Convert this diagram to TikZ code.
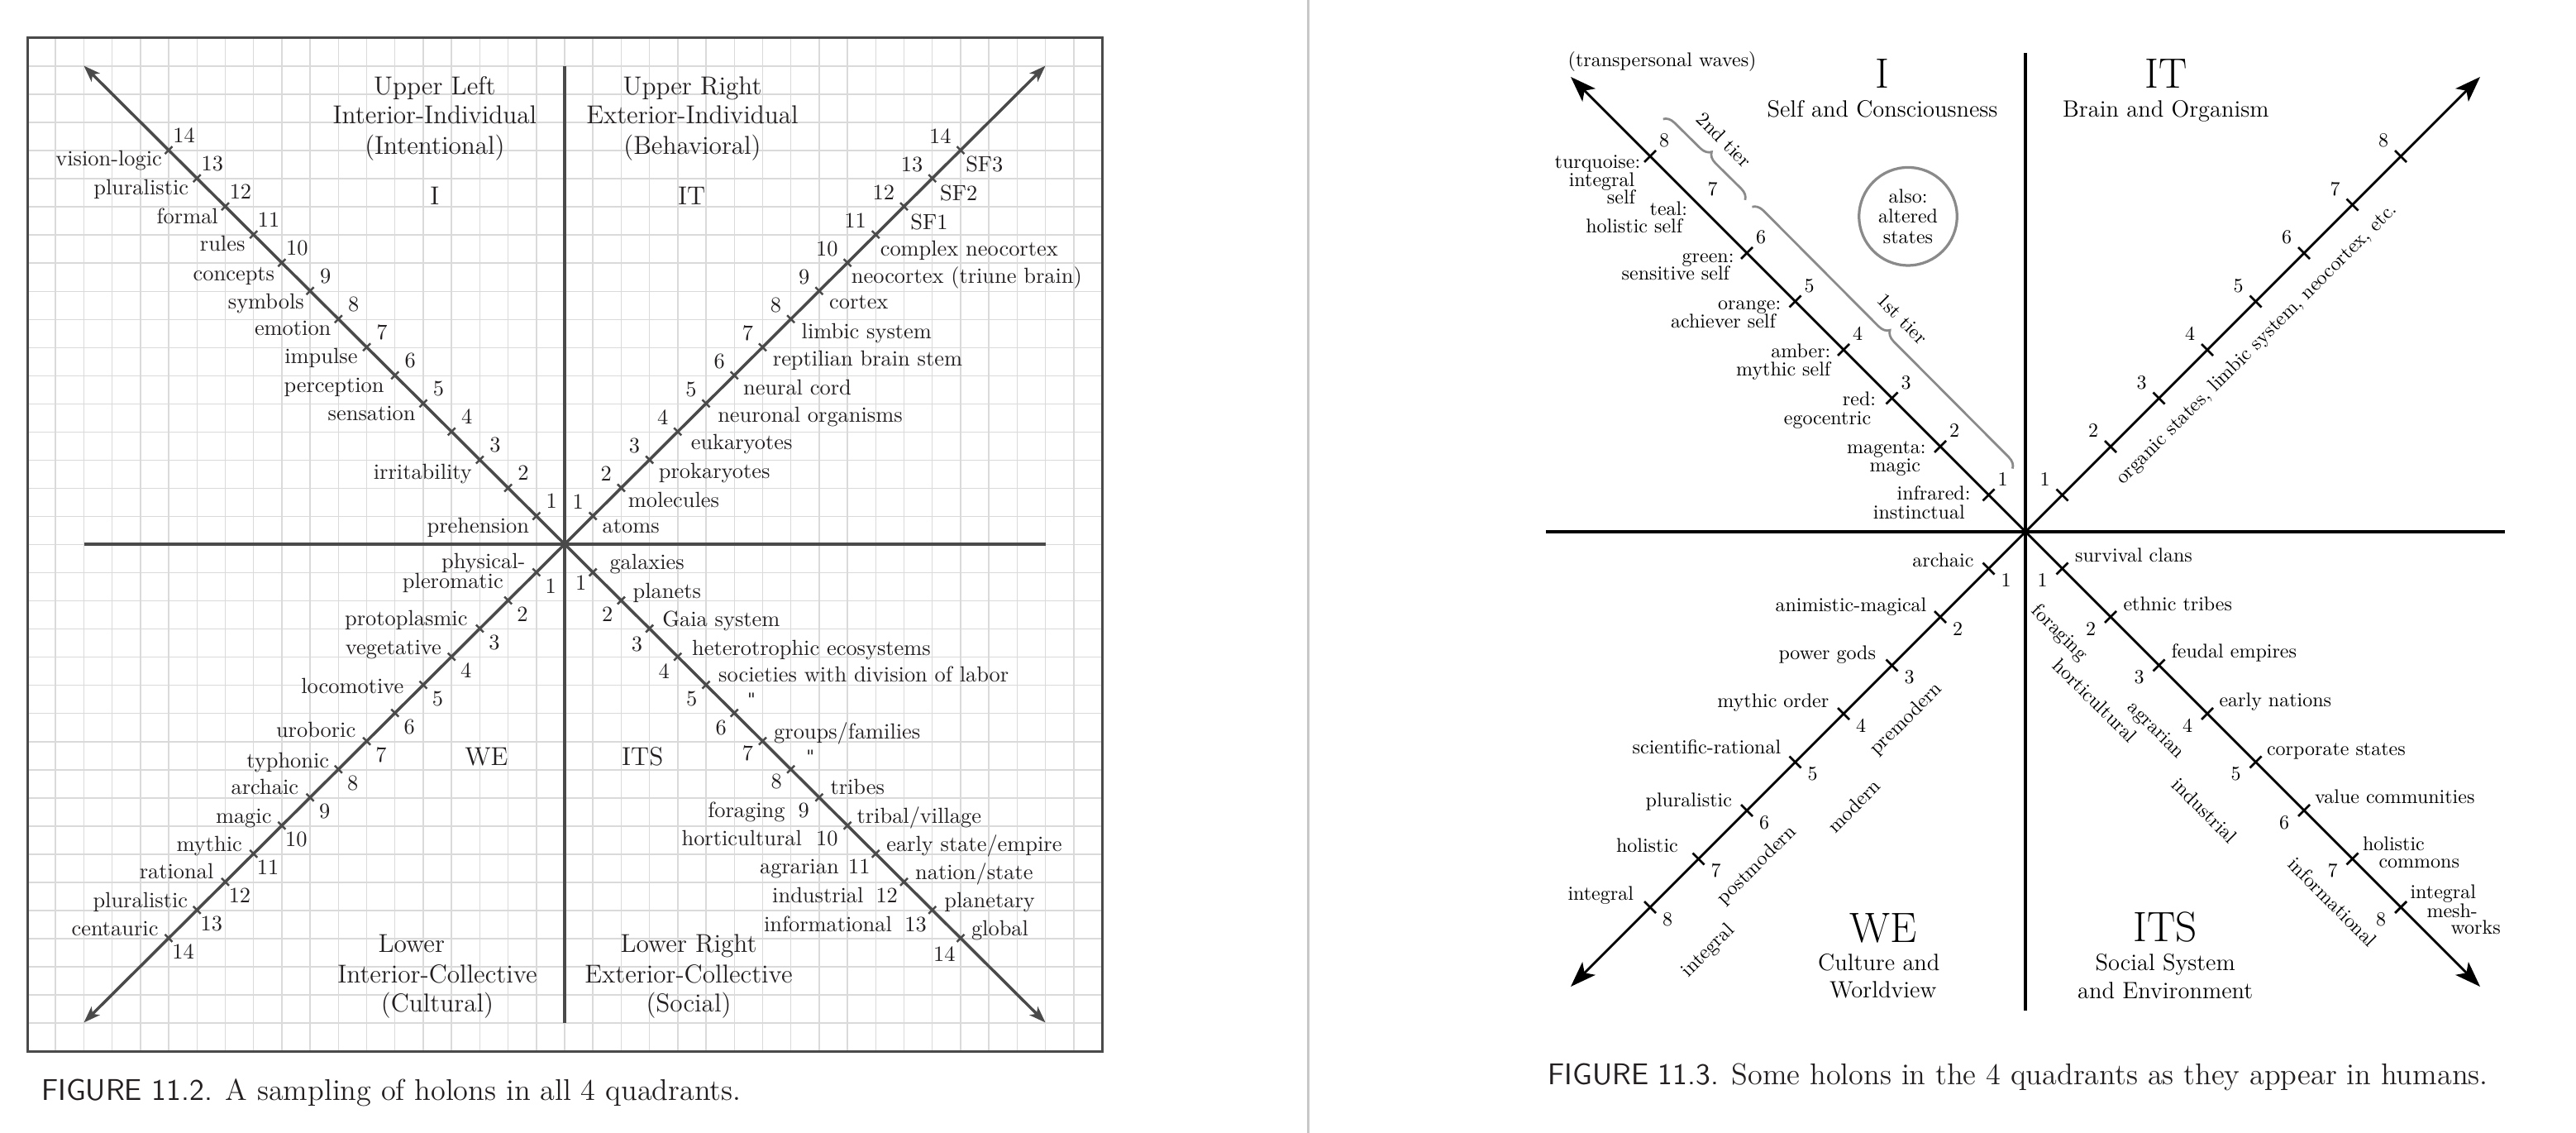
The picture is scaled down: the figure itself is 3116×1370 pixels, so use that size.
\documentclass[tikz,border=0pt]{standalone}
\usepackage{fontspec}
\newfontfamily\dqfont{DejaVu Serif}
\usetikzlibrary{arrows.meta,decorations.pathreplacing}
\definecolor{gridc}{HTML}{DADADA}
\definecolor{lineL}{HTML}{4A4A4A}
\definecolor{txtL}{HTML}{231F20}
\definecolor{divc}{HTML}{C8C8C8}
\definecolor{braceC}{HTML}{8A8A8A}
\tikzset{
 gridln/.style={draw=gridc, line width=0.6pt},
 frameL/.style={draw=lineL, line width=1.2pt},
 axisL/.style={draw=lineL, line width=1.8pt},
 diagL/.style={draw=lineL, line width=1.4pt, -{Stealth[length=8pt,width=5.6pt,inset=2pt]}},
 tickL/.style={draw=lineL, line width=1pt},
 lblL/.style={inner sep=0pt, text=txtL, font=\fontsize{10.56}{12}\selectfont, text height=7.3pt, text depth=2.1pt},
 ttlL/.style={inner sep=0pt, text=txtL, font=\fontsize{12.5}{14}\selectfont, text height=8.8pt, text depth=2.5pt},
 axisR/.style={draw=black, line width=1.6pt},
 diagR/.style={draw=black, line width=1.15pt, -{Stealth[length=12.4pt,width=8.8pt,inset=3pt]}},
 tickR/.style={draw=black, line width=1.1pt},
 lblR/.style={inner sep=0pt, font=\fontsize{9.6}{8.7}\selectfont, text height=6.7pt, text depth=1.9pt},
 subR/.style={inner sep=0pt, font=\fontsize{11.4}{13}\selectfont, text height=8pt, text depth=2.3pt},
 bigR/.style={inner sep=0pt, font=\fontsize{20.5}{22}\selectfont},
 braceS/.style={draw=braceC, line width=1.1pt, decorate, decoration={brace, amplitude=5.2pt}},
 capS/.style={inner sep=0pt, anchor=west, text=txtL, font=\fontsize{14.5}{16}\selectfont},
}
\begin{document}
\begin{tikzpicture}[x=0.4pt,y=-0.4pt]
\useasboundingbox (0,0) rectangle (3116,1370);
\fill[white] (0,0) rectangle (3116,1370);

% ================= LEFT FIGURE =================
\foreach \i in {1,...,37} \draw[gridln] ({33+34.21*\i},46) -- ({33+34.21*\i},1271);
\foreach \j in {1,...,35} \draw[gridln] (33,{46+34.03*\j}) -- (1333,{46+34.03*\j});
\draw[frameL] (33,46) rectangle (1333,1271);

\coordinate (cL) at (683,658);
\coordinate (aT) at (683,80);
\coordinate (aB) at (683,1237);
\coordinate (aLf) at (102,658);
\coordinate (aRt) at (1265,658);
\draw[axisL] (aT) -- (aB);
\draw[axisL] (aLf) -- (aRt);
\coordinate (tNW) at (101.4,79.5);
\coordinate (tNE) at (1264.6,79.5);
\coordinate (tSW) at (101.4,1236.5);
\coordinate (tSE) at (1264.6,1236.5);
\draw[diagL] (cL) -- (tNW);
\draw[diagL] (cL) -- (tNE);
\draw[diagL] (cL) -- (tSW);
\draw[diagL] (cL) -- (tSE);

\foreach \k in {1,...,14} {
  \draw[tickL] ({683-34.21*\k+4.5},{658-34.03*\k-4.5}) -- ({683-34.21*\k-4.5},{658-34.03*\k+4.5});
  \draw[tickL] ({683+34.21*\k-4.5},{658-34.03*\k-4.5}) -- ({683+34.21*\k+4.5},{658-34.03*\k+4.5});
  \draw[tickL] ({683-34.21*\k-4.5},{658+34.03*\k-4.5}) -- ({683-34.21*\k+4.5},{658+34.03*\k+4.5});
  \draw[tickL] ({683+34.21*\k+4.5},{658+34.03*\k-4.5}) -- ({683+34.21*\k-4.5},{658+34.03*\k+4.5});
  \node[lblL] (nwn\k) at ({683-34.21*\k+18.5},{658-34.03*\k-15.5}) {\k};
  \node[lblL, anchor=east] (nen\k) at ({683+34.21*\k-11},{658-34.03*\k-14.5}) {\k};
  \node[lblL] (swn\k) at ({683-34.21*\k+17.5},{658+34.03*\k+19}) {\k};
}

% quadrant titles
\node[ttlL] (ulA) at (525.9,106.5) {Upper Left};
\node[ttlL] (ulB) at (525.9,141.5) {Interior-Individual};
\node[ttlL] (ulC) at (525.9,178.5) {(Intentional)};
\node[ttlL] (ulD) at (525.9,240) {I};
\node[ttlL] (urA) at (837.5,106.5) {Upper Right};
\node[ttlL] (urB) at (837.5,141.5) {Exterior-Individual};
\node[ttlL] (urC) at (837.5,178.5) {(Behavioral)};
\node[ttlL] (urD) at (836.6,240) {IT};
\node[ttlL] (llD) at (588.4,917.6) {WE};
\node[ttlL] (llA) at (497.7,1144) {Lower};
\node[ttlL] (llB) at (529,1180.9) {Interior-Collective};
\node[ttlL] (llC) at (529,1215.6) {(Cultural)};
\node[ttlL] (lrD) at (777.2,917.6) {ITS};
\node[ttlL] (lrA) at (833,1144) {Lower Right};
\node[ttlL] (lrB) at (833,1180.9) {Exterior-Collective};
\node[ttlL] (lrC) at (833,1215.6) {(Social)};

% UL labels
\begin{scope}[every node/.append style={lblL, anchor=east}]
\node (ul14) at (196.4,194.3) {vision-logic};
\node (ul13) at (228.6,228.6) {pluralistic};
\node (ul12) at (264.3,263.7) {formal};
\node (ul11) at (296.9,297.2) {rules};
\node (ul10) at (332.6,333.1) {concepts};
\node (ul9) at (368.3,366.6) {symbols};
\node (ul8) at (400.9,399.2) {emotion};
\node (ul7) at (433,432.7) {impulse};
\node (ul6) at (465.1,467.8) {perception};
\node (ul5) at (503.1,502.5) {sensation};
\node (ul3) at (571.4,572.7) {irritability};
\node (ul1) at (640.6,638) {prehension};
% LL labels
\node (ll1a) at (636,680.8) {physical-};
\node (ll1b) at (609.3,705.3) {pleromatic};
\node (ll3) at (566,750) {protoplasmic};
\node (ll4) at (534.3,785) {vegetative};
\node (ll5) at (488.8,831.9) {locomotive};
\node (ll7) at (430.8,885) {uroboric};
\node (ll8) at (398.6,921.7) {typhonic};
\node (ll9) at (361.6,954.3) {archaic};
\node (ll10) at (329,989) {magic};
\node (ll11) at (293.3,1022.9) {mythic};
\node (ll12) at (258.9,1056.4) {rational};
\node (ll13) at (227.7,1091) {pluralistic};
\node (ll14) at (192,1125) {centauric};
% LR left-side words
\node (lrw9) at (950,982) {foraging};
\node (lrw10) at (970.5,1015.5) {horticultural};
\node (lrw11) at (1015.2,1050.2) {agrarian};
\node (lrw12) at (1045,1085) {industrial};
\node (lrw13) at (1079.4,1119.6) {informational};
\end{scope}

\begin{scope}[every node/.append style={lblL, anchor=west}]
% UR labels
\node (ur1) at (728.1,638) {atoms};
\node (ur2) at (759.4,607.4) {molecules};
\node (ur3) at (796.4,571.9) {prokaryotes};
\node (ur4) at (835.3,537.2) {eukaryotes};
\node (ur5) at (867.8,504.5) {neuronal organisms};
\node (ur6) at (898.6,470.7) {neural cord};
\node (ur7) at (934.4,436) {reptilian brain stem};
\node (ur8) at (969.2,403.3) {limbic system};
\node (ur9) at (1002.7,366.6) {cortex};
\node (ur10) at (1029.4,336) {neocortex (triune brain)};
\node (ur11) at (1064.3,303.3) {complex neocortex};
\node (ur12) at (1100.9,270.6) {SF1};
\node (ur13) at (1136.6,235.9) {SF2};
\node (ur14) at (1167.8,201.2) {SF3};
% LR labels
\node (lr1) at (737,682) {galaxies};
\node (lr2) at (765.2,716.7) {planets};
\node (lr3) at (800.9,751) {Gaia system};
\node (lr4) at (836.6,786.1) {heterotrophic ecosystems};
\node (lr5) at (868.7,818.4) {societies with division of labor};
\node (lr7) at (935.7,887) {groups/families};
\node (lr9) at (1004,954.3) {tribes};
\node (lr10) at (1036.1,989) {tribal/village};
\node (lr11) at (1071.8,1022.5) {early state/empire};
\node (lr12) at (1106.7,1057.2) {nation/state};
\node (lr13) at (1141.9,1091) {planetary};
\node (lr14) at (1174.5,1124.5) {global};
\end{scope}
\node[lblL, font=\dqfont\fontsize{8.5}{10}\selectfont] (lr6) at (908.9,847) {"};
\node[lblL, font=\dqfont\fontsize{8.5}{10}\selectfont] (lr8) at (980.3,915.5) {"};

% LR numbers
\node[lblL] (sen1) at (702.7,707.4) {1};
\node[lblL] (sen2) at (734.8,745.3) {2};
\node[lblL] (sen3) at (770.5,780.8) {3};
\node[lblL] (sen4) at (803.1,813.5) {4};
\node[lblL] (sen5) at (836.6,847.4) {5};
\node[lblL] (sen6) at (872.3,882) {6};
\node[lblL] (sen7) at (904.4,912.7) {7};
\node[lblL] (sen8) at (939.3,947) {8};
\node[lblL] (sen9) at (972.3,982) {9};
\node[lblL] (sen10) at (1000.4,1015.5) {10};
\node[lblL] (sen11) at (1039.3,1050.2) {11};
\node[lblL] (sen12) at (1072.7,1085) {12};
\node[lblL] (sen13) at (1107.6,1119.6) {13};
\node[lblL] (sen14) at (1142.4,1156.4) {14};

\node[capS] (cap1) at (50,1321) {{\sffamily FIGURE 11.2.} A sampling of holons in all 4 quadrants.};

% divider
\coordinate (dvT) at (1582,0);
\coordinate (dvB) at (1582,1370);
\draw[draw=divc, line width=1.2pt] (dvT) -- (dvB);

% ================= RIGHT FIGURE =================
\coordinate (cR) at (2450,643);
\coordinate (rT) at (2450,64);
\coordinate (rB) at (2450,1222);
\coordinate (rL) at (1870,643);
\coordinate (rR) at (3030,643);
\draw[axisR] (rT) -- (rB);
\draw[axisR] (rL) -- (rR);
\coordinate (rNW) at (1900,93);
\coordinate (rNE) at (3000,93);
\coordinate (rSW) at (1900,1193);
\coordinate (rSE) at (3000,1193);
\draw[diagR] (cR) -- (rNW);
\draw[diagR] (cR) -- (rNE);
\draw[diagR] (cR) -- (rSW);
\draw[diagR] (cR) -- (rSE);

\foreach \k in {1,...,8} {
  \pgfmathsetmacro\dd{58.5*\k-14}
  \draw[tickR] ({2450+\dd-7},{643-\dd-7}) -- ({2450+\dd+7},{643-\dd+7});
  \draw[tickR] ({2450-\dd-7},{643+\dd-7}) -- ({2450-\dd+7},{643+\dd+7});
  \draw[tickR] ({2450+\dd+7},{643+\dd-7}) -- ({2450+\dd-7},{643+\dd+7});
  \node[lblR] (rnwn\k) at ({2450-\dd+17},{643-\dd-17}) {\k};
  \node[lblR] (rnen\k) at ({2450+\dd-21},{643-\dd-17}) {\k};
  \node[lblR] (rswn\k) at ({2450-\dd+21},{643+\dd+16}) {\k};
  \node[lblR] (rsen\k) at ({2450+\dd-24},{643+\dd+16}) {\k};
}
\foreach \k in {1,2,3,4,5,6,8} {
  \pgfmathsetmacro\dd{58.5*\k-14}
  \draw[tickR] ({2450-\dd+7},{643-\dd-7}) -- ({2450-\dd-7},{643-\dd+7});
}

% titles
\node[lblR] (trw) at (2010.6,74.7) {(transpersonal waves)};
\node[bigR] (qI) at (2277,89) {I};
\node[subR] (qIs) at (2277,134.7) {Self and Consciousness};
\node[bigR] (qIT) at (2619.9,89) {IT};
\node[subR] (qITs) at (2619.9,134.7) {Brain and Organism};
\node[bigR] (qWE) at (2277.8,1122) {WE};
\node[subR] (qWEa) at (2272.8,1166.2) {Culture and};
\node[subR] (qWEb) at (2277.8,1199.6) {Worldview};
\node[bigR] (qITS) at (2619.2,1121.3) {ITS};
\node[subR] (qITSa) at (2619.2,1166.2) {Social System};
\node[subR] (qITSb) at (2619.2,1200.5) {and Environment};

% circle
\node[draw=braceC, line width=1.3pt, circle, minimum size=47.4pt, inner sep=0pt, align=center,
      font=\fontsize{9.6}{9.8}\selectfont] (alsoC) at (2308,261.7) {also:\\altered\\states};

% braces
\coordinate (b2s) at (2011.7,144);
\coordinate (b2e) at (2111,242);
\coordinate (b1s) at (2119.4,250.2);
\coordinate (b1e) at (2434.4,566.6);
\draw[braceS] (b2s) -- (b2e);
\draw[braceS] (b1s) -- (b1e);
\node[lblR, rotate=-45] (t2) at (2084,170.6) {2nd tier};
\node[lblR, rotate=-45] (t1) at (2299.7,387) {1st tier};

% NW labels
\begin{scope}[every node/.append style={lblR, anchor=east}]
\node (rnw8a) at (1984.7,197.2) {turquoise:};
\node (rnw8b) at (1977.7,219.6) {integral};
\node (rnw8c) at (1978.5,240.8) {self};
\node (rnw7a) at (2041.5,254.3) {teal:};
\node (rnw7b) at (2035.7,275.9) {holistic self};
\node (rnw6a) at (2097.9,311.5) {green:};
\node (rnw6b) at (2092.5,333) {sensitive self};
\node (rnw5a) at (2154.7,368.6) {orange:};
\node (rnw5b) at (2148.4,391) {achiever self};
\node (rnw4a) at (2214.8,427) {amber:};
\node (rnw4b) at (2214.8,448.2) {mythic self};
\node (rnw3a) at (2269.5,484.1) {red:};
\node (rnw3b) at (2263.7,507.4) {egocentric};
\node (rnw2a) at (2330,542) {magenta:};
\node (rnw2b) at (2323.4,564.6) {magic};
\node (rnw1a) at (2383.9,598.4) {infrared:};
\node (rnw1b) at (2377.2,621.7) {instinctual};
% SW labels
\node (rsw1) at (2388,679.2) {archaic};
\node (rsw2) at (2330.8,733.5) {animistic-magical};
\node (rsw3) at (2269.5,791.4) {power gods};
\node (rsw4) at (2212.7,849.4) {mythic order};
\node (rsw5) at (2154.7,905.7) {scientific-rational};
\node (rsw6) at (2095.4,969) {pluralistic};
\node (rsw7) at (2030.3,1024) {holistic};
\node (rsw8) at (1976.4,1082) {integral};
\end{scope}

% SE labels
\begin{scope}[every node/.append style={lblR, anchor=west}]
\node (rse1) at (2509.6,673) {survival clans};
\node (rse2) at (2568,732.3) {ethnic tribes};
\node (rse3) at (2626,789.4) {feudal empires};
\node (rse4) at (2684,848.6) {early nations};
\node (rse5) at (2741.5,907) {corporate states};
\node (rse6) at (2799.5,965) {value communities};
\node (rse7a) at (2857.5,1022) {holistic};
\node (rse7b) at (2877,1043.7) {commons};
\node (rse8a) at (2915,1080.5) {integral};
\node (rse8b) at (2935,1103) {mesh-};
\node (rse8c) at (2964,1123) {works};
\end{scope}

% rotated labels
\node[lblR, rotate=45] (org) at (2730,416.6) {organic states, limbic system, neocortex, etc.};
\node[lblR, rotate=45] (erPre) at (2306,869.8) {premodern};
\node[lblR, rotate=45] (erMod) at (2243.8,976) {modern};
\node[lblR, rotate=45] (erPost) at (2125.6,1046.6) {postmodern};
\node[lblR, rotate=45] (erInt) at (2066.4,1149.8) {integral};
\node[lblR, rotate=-45] (sFor) at (2490.9,765.7) {foraging};
\node[lblR, rotate=-45] (sHor) at (2532.9,848.6) {horticultural};
\node[lblR, rotate=-45] (sAgr) at (2607.8,883.3) {agrarian};
\node[lblR, rotate=-45] (sInd) at (2665.3,981.3) {industrial};
\node[lblR, rotate=-45] (sInf) at (2820,1092.3) {informational};

\node[capS] (cap2) at (1872,1302) {{\sffamily FIGURE 11.3.} Some holons in the 4 quadrants as they appear in humans.};
\end{tikzpicture}
\end{document}
